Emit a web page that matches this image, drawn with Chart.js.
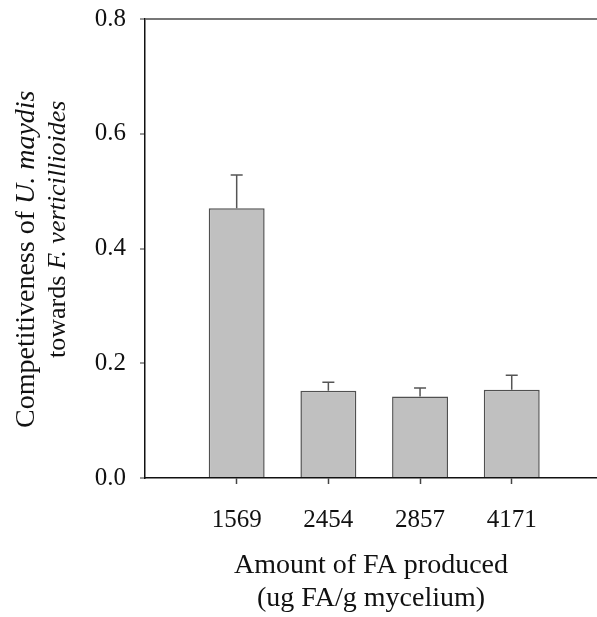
<!DOCTYPE html>
<html>
<head>
<meta charset="utf-8">
<script src="https://cdn.jsdelivr.net/npm/chart.js@4"></script>
<style>
  body { margin: 0; background: #fff; }
  #wrap { width: 597px; height: 617px; position: relative; }
</style>
</head>
<body>
<div id="wrap"><canvas id="myChart"></canvas></div>
<script>
// data
const labels = ['1569', '2454', '2857', '4171'];
const positions = [1, 2, 3, 4];
const values = [0.470, 0.152, 0.142, 0.154];
const errors = [0.058, 0.015, 0.015, 0.025];
const yTicks = [0, 0.2, 0.4, 0.6, 0.8];

const serif = '"Liberation Serif", "Times New Roman", serif';

// upper error bars only, SigmaPlot style
const errorBars = {
  id: 'errorBars',
  afterDatasetsDraw(chart) {
    const ctx = chart.ctx;
    const x = chart.scales.x, y = chart.scales.y;
    ctx.save();
    ctx.strokeStyle = '#555';
    ctx.lineWidth = 1.5;
    values.forEach((v, i) => {
      const px = x.getPixelForValue(positions[i]);
      const top = y.getPixelForValue(v);
      const cap = y.getPixelForValue(v + errors[i]);
      ctx.beginPath();
      ctx.moveTo(px, top);
      ctx.lineTo(px, cap);
      ctx.moveTo(px - 6, cap);
      ctx.lineTo(px + 6, cap);
      ctx.stroke();
    });
    ctx.restore();
  }
};

// axis titles (y title has italic species names)
const axisTitles = {
  id: 'axisTitles',
  afterDraw(chart) {
    const ctx = chart.ctx;
    const area = chart.chartArea;
    ctx.save();
    ctx.fillStyle = '#111';
    ctx.textAlign = 'center';
    ctx.textBaseline = 'middle';
    ctx.font = '28px ' + serif;
    const cx = (area.left + area.right) / 2;
    ctx.fillText('Amount of FA produced', cx, 566);
    ctx.fillText('(ug FA/g mycelium)', cx, 599);

    const drawParts = (parts, baseX, startY, size) => {
      ctx.save();
      ctx.translate(baseX, startY);
      ctx.rotate(-Math.PI / 2);
      ctx.textAlign = 'left';
      ctx.textBaseline = 'alphabetic';
      let off = 0;
      parts.forEach(p => {
        ctx.font = (p[1] ? 'italic ' : '') + size + 'px ' + serif;
        ctx.fillText(p[0], off, 0);
        off += ctx.measureText(p[0]).width;
      });
      ctx.restore();
    };
    drawParts([['Competitiveness of ', false], ['U. maydis', true]], 34, 428, 28);
    drawParts([['towards ', false], ['F. verticillioides', true]], 65, 358, 26);
    ctx.restore();
  }
};

const ctx = document.getElementById('myChart').getContext('2d');
const myChart = new Chart(ctx, {
  type: 'bar',
  data: {
    datasets: [{
      data: positions.map((p, i) => ({ x: p, y: values[i] })),
      backgroundColor: '#c0c0c0',
      borderColor: '#505050',
      borderWidth: 1.5,
      categoryPercentage: 1,
      barPercentage: 0.61
    }]
  },
  options: {
    responsive: true,
    maintainAspectRatio: false,
    animation: false,
    layout: { padding: { top: 0, left: 0, right: 0, bottom: 0 } },
    plugins: { legend: { display: false }, tooltip: { enabled: false } },
    scales: {
      x: {
        type: 'linear',
        offset: false,
        min: 0,
        max: 4.93,
        afterBuildTicks: s => { s.ticks = positions.map(v => ({ value: v })); },
        afterFit: s => { s.height = 139; },
        ticks: {
          callback: (v, i) => labels[i],
          font: { family: serif, size: 25 },
          color: '#111',
          padding: 21,
          maxRotation: 0
        },
        grid: { offset: false, drawOnChartArea: false, tickLength: 6, tickColor: '#444', tickWidth: 1.5 },
        border: { color: '#111', width: 1.5 }
      },
      y: {
        min: 0,
        max: 0.8,
        afterBuildTicks: s => { s.ticks = yTicks.map(v => ({ value: v })); },
        afterFit: s => { s.width = 145; },
        ticks: {
          callback: v => v.toFixed(1),
          font: { family: serif, size: 25, lineHeight: 0.4 },
          color: '#111',
          padding: 14
        },
        grid: {
          color: c => (c.tick && c.tick.value === 0.8) ? '#777' : 'rgba(0,0,0,0)',
          lineWidth: 2,
          tickLength: 5,
          tickColor: '#333',
          tickWidth: 1
        },
        border: { color: '#111', width: 1.5 }
      }
    }
  },
  plugins: [errorBars, axisTitles]
});
</script>
</body>
</html>
